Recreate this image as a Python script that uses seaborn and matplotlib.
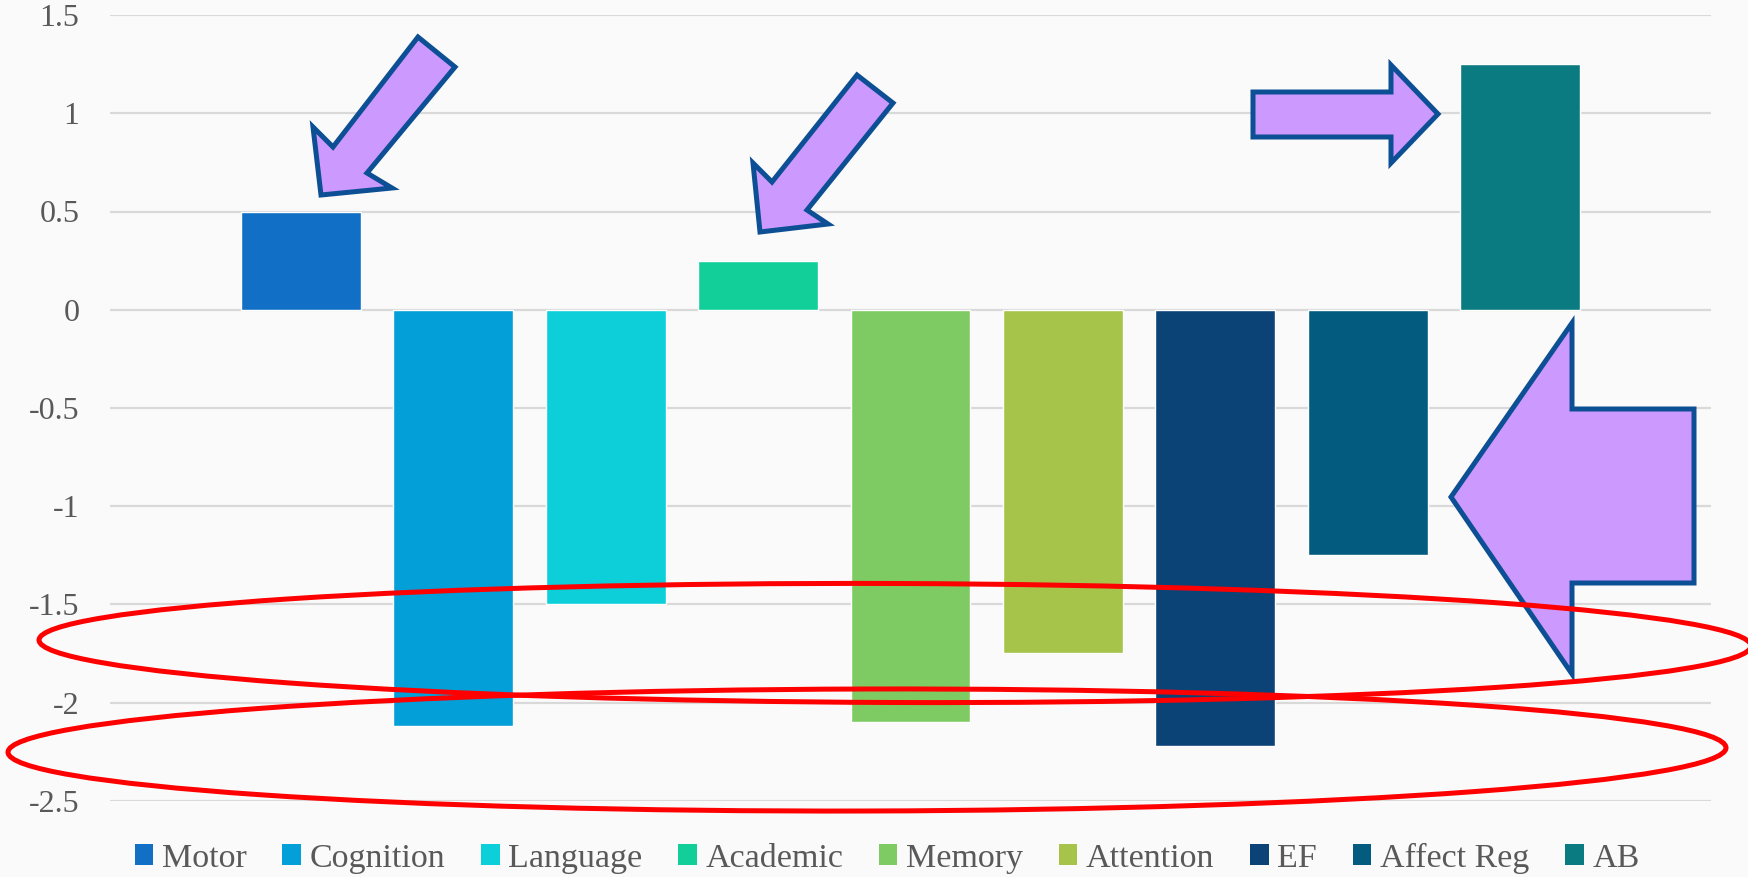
import matplotlib
matplotlib.use("Agg")
import matplotlib.pyplot as plt
import matplotlib.patches as mpatches
import pandas as pd
import seaborn as sns

# Dados do gráfico
categorias = ["Motor", "Cognition", "Language", "Academic", "Memory",
              "Attention", "EF", "Affect Reg", "AB"]
valores = [0.5, -2.12, -1.5, 0.25, -2.1, -1.75, -2.22, -1.25, 1.25]
cores = ["#1170C6", "#039FD8", "#0DCFDA", "#12CF9A", "#7ECB63",
         "#A6C34A", "#0C4377", "#035C80", "#0A7B80"]
ticks_y = [1.5, 1, 0.5, 0, -0.5, -1, -1.5, -2, -2.5]

df = pd.DataFrame({"categoria": categorias, "valor": valores})

sns.set_theme(style="white")
plt.rcParams['font.family'] = ['Liberation Serif', 'DejaVu Serif']

W, H = 1748, 877
fig = plt.figure(figsize=(W / 100, H / 100), dpi=100)
fig.patch.set_facecolor("#fafafa")
ax = fig.add_axes([110 / W, 1 - 800.7 / H, (1711 - 110) / W, (800.7 - 15.1) / H])
ax.set_facecolor("none")

sns.barplot(data=df, x="categoria", y="valor", hue="categoria",
            palette=cores, width=0.786, dodge=False, legend=False,
            saturation=1, ax=ax, zorder=2)

ax.set_xlim(-1.2516, 9.2516)
ax.set_ylim(-2.5, 1.5)
ax.set_yticks(ticks_y)
ax.set_yticklabels([f"{t:g}" for t in ticks_y], color="#595959", fontsize=23)
ax.tick_params(axis="y", length=0, pad=22)
ax.set_xticks([])
ax.set_xlabel("")
ax.set_ylabel("")
ax.grid(axis="y", color="#d9d9d9", linewidth=1.6, zorder=0)
ax.set_axisbelow(True)
for s in ax.spines.values():
    s.set_visible(False)

# Legenda
handles = [mpatches.Patch(facecolor=c, edgecolor="none", label=l)
           for c, l in zip(cores, categorias)]
fig.legend(handles=handles, loc="center", bbox_to_anchor=(887 / W, 1 - 858 / H),
           ncol=9, frameon=False, fontsize=24.5, handlelength=0.55,
           handleheight=0.55, handletextpad=0.25, columnspacing=1.05,
           labelcolor="#595959")


# Setas e elipses de destaque (coordenadas em pixels da figura)
def px(pts):
    return [(x / W, 1 - y / H) for x, y in pts]


setas = [
    [(418, 37), (455, 67), (367, 173), (392, 188), (321, 195), (313, 127), (333, 147)],
    [(857, 75), (893, 103), (807, 210), (828, 224), (760, 232), (753, 163), (772, 182)],
    [(1253, 92), (1391, 92), (1391, 65), (1438, 114), (1391, 163), (1391, 137), (1253, 137)],
    [(1694, 409), (1572, 409), (1572, 323), (1451, 497), (1572, 674), (1572, 583), (1694, 583)],
]
for s in setas:
    fig.patches.append(mpatches.Polygon(px(s), closed=True, facecolor="#CC99FF",
                                        edgecolor="#0D4F94", linewidth=3.6,
                                        joinstyle="miter", transform=fig.transFigure,
                                        zorder=5))

elipses = [((895, 643), 1712, 119, -0.4), ((867, 750), 1718, 122, 0.3)]
for (cx, cy), w, h, ang in elipses:
    fig.patches.append(mpatches.Ellipse((cx / W, 1 - cy / H), w / W, h / H, angle=ang,
                                        facecolor="none", edgecolor="#FF0000",
                                        linewidth=3.6, transform=fig.transFigure,
                                        zorder=6))

fig.savefig("out.png", dpi=100, facecolor=fig.get_facecolor())
